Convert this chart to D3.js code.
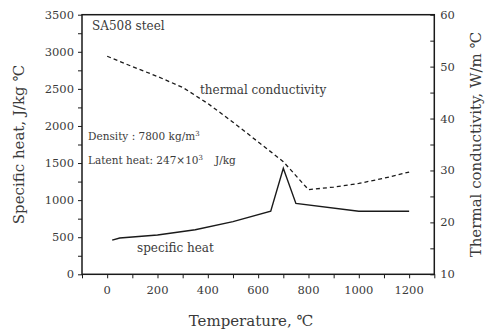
<!DOCTYPE html>
<html><head><meta charset="utf-8">
<script src="https://cdn.jsdelivr.net/npm/d3@7"></script>
<style>body{margin:0;background:#fff}svg{display:block}text{font-family:"DejaVu Serif",serif;fill:#3a3a3a}</style>
</head><body><svg id="c" width="492" height="329"></svg>
<script>
const tempCond = [0, 100, 200, 300, 400, 500, 600, 700, 800, 900, 1000, 1100, 1200];
const conductivity = [52, 50, 48.1, 46, 42.9, 39.3, 35.5, 31.7, 26.3, 26.8, 27.5, 28.5, 29.7];
const tempHeat = [20, 50, 200, 350, 500, 650, 700, 750, 1000, 1200];
const specificHeat = [460, 490, 530, 600, 710, 850, 1430, 955, 850, 850];
const xTicks = [0, 200, 400, 600, 800, 1000, 1200];
const yLeftTicks = [0, 500, 1000, 1500, 2000, 2500, 3000, 3500];
const yRightTicks = [10, 20, 30, 40, 50, 60];

const svg = d3.select("#c");
const L = 82, R = 434.3, T = 14.7, B = 274.3;
const x = d3.scaleLinear().domain([-100, 1300]).range([L, R]);
const yL = d3.scaleLinear().domain([0, 3500]).range([B, T]);
const yR = d3.scaleLinear().domain([10, 60]).range([B, T]);
const ink = "#1a1a1a";

svg.append("rect").attr("x", L).attr("y", T).attr("width", R - L).attr("height", B - T)
  .attr("fill", "none").attr("stroke", ink).attr("stroke-width", 1.5);

const gx = svg.append("g").attr("transform", `translate(0,${B})`);
gx.call(d3.axisBottom(x).tickValues(d3.range(-100, 1301, 100)).tickSize(4).tickFormat(""));
gx.call(g => g.select(".domain").remove());
gx.selectAll("line").attr("stroke", ink);
gx.selectAll(".lbl").data(xTicks).join("text").attr("x", d => x(d)).attr("y", 20)
  .attr("text-anchor", "middle").attr("font-size", 11.5).text(d => d);

const gl = svg.append("g").attr("transform", `translate(${L},0)`);
gl.call(d3.axisLeft(yL).tickValues(d3.range(0, 3501, 250)).tickSize(4).tickFormat(""));
gl.call(g => g.select(".domain").remove());
gl.selectAll("line").attr("stroke", ink);
gl.selectAll(".lbl").data(yLeftTicks).join("text").attr("x", -8).attr("y", d => yL(d) + 4)
  .attr("text-anchor", "end").attr("font-size", 11.5).text(d => d);

const gr = svg.append("g").attr("transform", `translate(${R},0)`);
gr.call(d3.axisLeft(yR).tickValues(d3.range(10, 61, 5)).tickSize(4).tickFormat(""));
gr.call(g => g.select(".domain").remove());
gr.selectAll("line").attr("stroke", ink);
gr.selectAll(".lbl").data(yRightTicks).join("text").attr("x", 6).attr("y", d => yR(d) + 4)
  .attr("text-anchor", "start").attr("font-size", 11.5).text(d => d);

const condData = tempCond.map((t, i) => [t, conductivity[i]]);
const heatData = tempHeat.map((t, i) => [t, specificHeat[i]]);
svg.append("path").datum(condData).attr("fill", "none").attr("stroke", ink).attr("stroke-width", 1.3)
  .attr("stroke-dasharray", "4,3").attr("d", d3.line().x(d => x(d[0])).y(d => yR(d[1])));
svg.append("path").datum(heatData).attr("fill", "none").attr("stroke", ink).attr("stroke-width", 1.4)
  .attr("d", d3.line().x(d => x(d[0])).y(d => yL(d[1])));

svg.append("text").attr("x", 92).attr("y", 30).attr("font-size", 12).text("SA508 steel");
svg.append("text").attr("x", 200).attr("y", 94).attr("font-size", 12).text("thermal conductivity");
svg.append("text").attr("x", 137).attr("y", 252).attr("font-size", 12).text("specific heat");
const t1 = svg.append("text").attr("x", 88).attr("y", 140).attr("font-size", 10.5);
t1.append("tspan").text("Density : 7800 kg/m");
t1.append("tspan").attr("font-size", 7).attr("dy", -4).text("3");
const t2 = svg.append("text").attr("x", 88).attr("y", 164).attr("font-size", 10.5);
t2.append("tspan").text("Latent heat: 247×10");
t2.append("tspan").attr("font-size", 7).attr("dy", -4).text("3");
t2.append("tspan").attr("dy", 4).attr("x", 215).text("J/kg");

svg.append("text").attr("x", 251).attr("y", 326).attr("text-anchor", "middle").attr("font-size", 15)
  .text("Temperature, ℃");
svg.append("text").attr("transform", `translate(24,${(T + B) / 2}) rotate(-90)`).attr("text-anchor", "middle")
  .attr("font-size", 15).text("Specific heat, J/kg ℃");
svg.append("text").attr("transform", `translate(481,${(T + B) / 2}) rotate(-90)`).attr("text-anchor", "middle")
  .attr("font-size", 15).text("Thermal conductivity, W/m ℃");
</script></body></html>
